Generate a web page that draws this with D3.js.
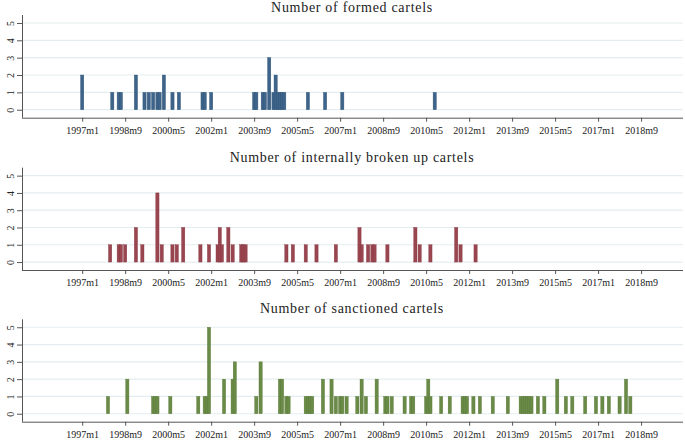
<!DOCTYPE html>
<html><head><meta charset="utf-8">
<script src="https://cdn.jsdelivr.net/npm/d3@7"></script>
<style>
body{margin:0;background:#fff}
text{font-family:"Liberation Serif","DejaVu Serif",serif;fill:#222}
</style>
</head><body>
<svg id="c" width="685" height="442"></svg>
<script>
const xTickLabels = ["1997m1","1998m9","2000m5","2002m1","2003m9","2005m5","2007m1","2008m9","2010m5","2012m1","2013m9","2015m5","2017m1","2018m9"];
const yTicks = [0,1,2,3,4,5];
const titles = ["Number of formed cartels","Number of internally broken up cartels","Number of sanctioned cartels"];

const formedMonths = ["1997m1","1998m3","1998m6","1998m7","1999m2","1999m6","1999m8","1999m10","1999m12","2000m1","2000m3","2000m7","2000m10","2001m9","2001m10","2002m1","2003m9","2003m10","2004m1","2004m2","2004m4","2004m6","2004m7","2004m8","2004m9","2004m10","2004m11","2005m10","2006m6","2007m2","2010m9"];
const formedCounts = [2,1,1,1,2,1,1,1,1,1,2,1,1,1,1,1,1,1,1,1,3,1,2,1,1,1,1,1,1,1,1];

const brokenMonths = ["1998m2","1998m6","1998m7","1998m9","1999m2","1999m5","1999m12","2000m2","2000m7","2000m9","2000m12","2001m8","2001m12","2002m4","2002m5","2002m6","2002m9","2002m11","2003m3","2003m4","2003m5","2004m12","2005m3","2005m9","2006m2","2006m11","2007m10","2007m11","2008m2","2008m4","2008m5","2008m11","2009m12","2010m2","2010m7","2011m7","2011m9","2012m4"];
const brokenCounts = [1,1,1,1,2,1,4,1,1,1,2,1,1,1,2,1,2,1,1,1,1,1,1,1,1,1,2,1,1,1,1,1,2,1,1,2,1,1];

const sanctionedMonths = ["1998m1","1998m10","1999m10","1999m11","1999m12","2000m6","2001m7","2001m10","2001m11","2001m12","2002m7","2002m11","2002m12","2003m10","2003m12","2004m9","2004m10","2004m12","2005m1","2005m9","2005m10","2005m11","2005m12","2006m5","2006m9","2006m11","2007m1","2007m2","2007m4","2007m9","2007m11","2008m1","2008m6","2008m10","2008m11","2009m1","2009m7","2009m10","2009m11","2010m5","2010m6","2010m7","2010m12","2011m4","2011m10","2011m11","2011m12","2012m3","2012m6","2012m12","2013m7","2014m1","2014m2","2014m3","2014m4","2014m5","2014m6","2014m9","2014m12","2015m6","2015m10","2016m1","2016m7","2016m12","2017m3","2017m6","2017m11","2018m2","2018m4"];
const sanctionedCounts = [1,2,1,1,1,1,1,1,1,5,2,2,3,1,3,2,2,1,1,1,1,1,1,2,2,1,1,1,1,1,2,1,2,1,1,1,1,1,1,1,2,1,1,1,1,1,1,1,1,1,1,1,1,1,1,1,1,1,1,2,1,1,1,1,1,1,1,2,1];

const colors = ["#3e6489","#9a4650","#6a8a47"];
const strokes = ["#2f5378","#873640","#5a7a39"];

function parseM(s){const p=s.split("m").map(Number);return (p[0]-1997)*12+(p[1]-1);}

const svg = d3.select("#c");
const x = d3.scaleLinear().domain([-28,279.5]).range([22,683]);
const halfW = 0.75;

const layout = [
  {top:15, bottom:117.7, titleY:11.7},
  {top:167.7, bottom:270, titleY:161.7},
  {top:319.3, bottom:421.7, titleY:313.3}
];
const series = [
  {months:formedMonths, counts:formedCounts},
  {months:brokenMonths, counts:brokenCounts},
  {months:sanctionedMonths, counts:sanctionedCounts}
];

layout.forEach((L,i)=>{
  const y = d3.scaleLinear().domain([-0.46,5.46]).range([L.bottom,L.top]);
  const g = svg.append("g");
  // gridlines
  g.selectAll("line.grid").data(yTicks).enter().append("line")
    .attr("x1",22).attr("x2",683)
    .attr("y1",d=>y(d)).attr("y2",d=>y(d))
    .attr("stroke","#e4eef0").attr("stroke-width",1.2);
  // bars
  const data = series[i].months.map((m,k)=>({m:parseM(m),v:series[i].counts[k]}));
  g.selectAll("rect").data(data).enter().append("rect")
    .attr("x",d=>x(d.m-halfW))
    .attr("width",d=>x(d.m+halfW)-x(d.m-halfW))
    .attr("y",d=>y(d.v))
    .attr("height",d=>y(0)-y(d.v))
    .attr("fill",colors[i]).attr("stroke",strokes[i]).attr("stroke-width",0.4);
  // x axis
  const xa = d3.axisBottom(x).tickValues(xTickLabels.map(parseM))
    .tickFormat((d,k)=>xTickLabels[k]).tickSize(4).tickSizeOuter(0);
  const xg = g.append("g").attr("transform",`translate(0,${L.bottom})`).call(xa);
  xg.select(".domain").attr("stroke","#555").attr("d",`M22,0.5H683`);
  xg.selectAll(".tick line").attr("stroke","#555");
  xg.selectAll(".tick text").attr("dy",null).attr("y",16).style("font-size","10px").attr("fill","#222");
  // y axis
  const ya = d3.axisLeft(y).tickValues(yTicks).tickSize(5).tickSizeOuter(0).tickFormat(d3.format("d"));
  const yg = g.append("g").attr("transform","translate(22,0)").call(ya);
  yg.select(".domain").attr("stroke","#555").attr("d",`M0.5,${L.top}V${L.bottom}`);
  yg.selectAll(".tick line").attr("stroke","#555");
  yg.selectAll(".tick text")
    .attr("x",null).attr("dy",null)
    .attr("text-anchor","middle")
    .attr("transform","translate(-8,0) rotate(-90)")
    .attr("y",0)
    .style("font-size","10px").attr("fill","#222");
  // title
  g.append("text").attr("x",352).attr("y",L.titleY).attr("text-anchor","middle")
    .style("font-size","14px").style("letter-spacing","0.7px").text(titles[i]);
});
</script>
</body></html>
